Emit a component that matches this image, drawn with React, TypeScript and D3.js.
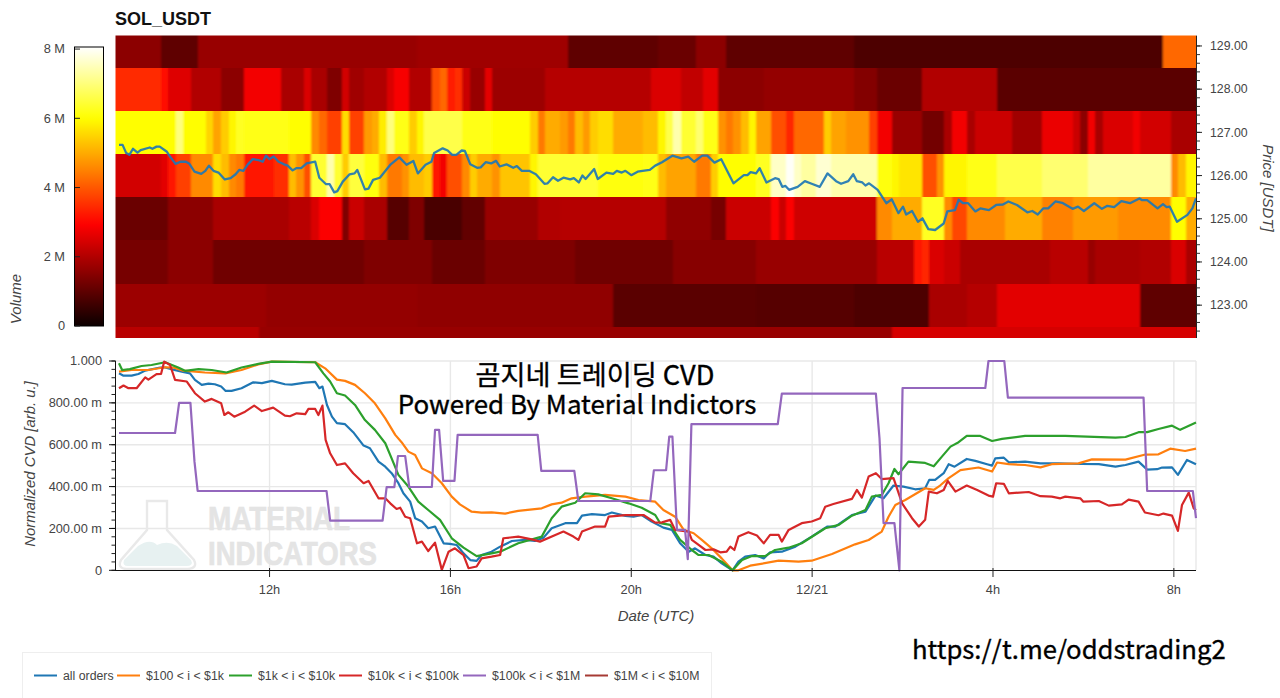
import * as d3 from "d3";
import React from "react";

type Pt = [number, number];
type Run = [number, number];

// hours counted from 12/20 00:00 UTC
const hourStart = 8.593;
const hourEnd = 32.49;
const binHours = 1 / 6;

const timeTicks = [12, 16, 20, 24, 28, 32];
const timeLabels = ["12h", "16h", "20h", "12/21", "4h", "8h"];
const priceTicks = [123, 124, 125, 126, 127, 128, 129];
const volumeTicks = [0, 2, 4, 6, 8];
const cvdTicks = [0, 200, 400, 600, 800, 1000];
const cvdLabels = ["0", "200.00 m", "400.00 m", "600.00 m", "800.00 m", "1.000"];

// volume in millions, runs are [first 10 minute bin, volume]
const row129: Run[] = [[0,1.55],[6,1.0],[11,1.7],[40,1.78],[60,1.0],[72,1.15],[77,1.55],[81,1.0],[98,0.8],[139,4.2]];
const row128: Run[] = [[0,3.45],[6,3.1],[7,2.55],[10,2.0],[14,1.55],[17,2.8],[22,1.9],[25,2.5],[26,1.9],[28,1.4],[30,2.4],[31,1.8],[33,2.0],[36,2.5],[37,2.85],[39,2.0],[42,3.9],[43,4.2],[44,3.3],[45,3.5],[46,2.3],[47,1.7],[49,2.6],[50,1.75],[57,2.05],[71,2.5],[75,2.2],[78,2.6],[80,1.55],[86,1.65],[98,1.45],[101,1.15],[107,2.0],[117,0.95]];
const row127: Run[] = [[0,6.0],[8,7.0],[9,6.0],[12,5.5],[13,4.9],[14,5.4],[15,5.9],[16,6.3],[17,6.2],[23,6.0],[26,4.6],[27,4.2],[28,3.7],[30,5.6],[31,3.7],[33,4.8],[34,5.0],[35,5.8],[36,7.0],[37,6.2],[39,5.4],[40,5.9],[41,6.6],[46,6.2],[50,6.0],[55,5.4],[56,4.4],[57,5.0],[59,4.8],[60,4.4],[61,5.2],[62,4.8],[63,5.4],[64,5.6],[66,5.0],[70,5.2],[72,5.9],[73,6.6],[74,7.4],[75,6.4],[77,6.9],[78,6.2],[80,4.7],[81,4.4],[82,4.7],[83,5.2],[84,5.9],[85,4.9],[87,3.9],[89,3.4],[90,4.2],[94,5.4],[95,4.9],[97,4.7],[100,3.7],[101,2.8],[103,1.7],[107,1.25],[110,1.9],[111,2.8],[113,1.9],[114,2.3],[119,1.8],[123,2.7],[127,2.3],[128,1.55],[129,2.8],[130,1.9],[131,2.5],[135,2.8],[136,2.4],[140,1.9]];
const row126: Run[] = [[0,2.4],[6,2.6],[7,3.2],[8,3.7],[10,4.6],[13,5.6],[14,5.2],[15,4.6],[16,4.4],[17,3.2],[21,3.5],[23,5.2],[24,4.7],[25,3.9],[26,6.4],[28,7.4],[29,6.4],[30,5.4],[31,6.5],[33,6.1],[35,5.2],[36,4.4],[38,4.7],[39,5.2],[41,5.4],[42,3.2],[43,2.8],[44,3.9],[46,4.6],[47,5.4],[48,5.0],[50,4.7],[51,5.3],[55,5.9],[56,6.4],[64,6.1],[70,6.2],[72,5.2],[73,4.9],[77,4.4],[79,5.4],[80,6.0],[85,6.3],[87,7.6],[89,8.0],[90,7.6],[91,7.3],[93,7.7],[95,7.4],[101,6.1],[103,5.9],[104,5.7],[107,3.9],[109,4.7],[110,5.9],[113,6.2],[117,6.6],[123,6.9],[129,7.3],[140,4.6],[141,5.2],[142,5.9]];
const row125: Run[] = [[0,1.15],[7,1.55],[13,1.9],[23,2.1],[26,2.5],[27,2.9],[30,1.4],[31,2.3],[33,1.9],[36,0.9],[39,1.4],[41,0.75],[46,1.05],[49,1.7],[56,2.0],[59,2.05],[73,1.6],[79,1.3],[81,2.3],[87,2.9],[88,2.3],[89,2.9],[90,2.35],[101,4.6],[103,5.0],[107,6.3],[110,4.6],[111,3.8],[113,4.6],[118,5.0],[123,4.5],[127,4.8],[133,4.6],[140,6.0],[142,5.0]];
const row124: Run[] = [[0,1.3],[7,1.55],[13,1.2],[33,1.4],[42,1.15],[49,1.4],[61,1.2],[74,1.5],[85,1.7],[101,2.1],[106,3.2],[107,3.4],[108,2.5],[110,2.3],[112,1.9],[124,2.1],[129,1.7],[130,1.9],[136,2.0],[140,2.5],[142,1.9]];
const row123: Run[] = [[0,1.75],[20,1.65],[40,1.6],[66,0.95],[85,0.9],[98,0.8],[108,1.9],[113,2.05],[117,2.6],[136,1.0]];
const row122: Run[] = [[0,2.1],[19,1.7],[103,2.45]];
const heatRows: [number, Run[]][] = [[129,row129],[128,row128],[127,row127],[126,row126],[125,row125],[124,row124],[123,row123],[122,row122]];

const price: Pt[] = [[8.67,126.71],[8.75,126.71],[8.83,126.52],[8.90,126.48],[8.98,126.62],[9.08,126.53],[9.15,126.59],[9.35,126.65],[9.41,126.62],[9.50,126.67],[9.57,126.67],[9.73,126.55],[9.80,126.44],[9.92,126.27],[10.03,126.32],[10.15,126.32],[10.22,126.28],[10.34,126.09],[10.49,126.04],[10.58,126.11],[10.66,126.23],[10.76,126.11],[10.87,126.07],[11.01,125.91],[11.14,125.94],[11.25,126.03],[11.33,126.13],[11.42,126.11],[11.52,126.26],[11.63,126.38],[11.75,126.36],[11.85,126.32],[11.92,126.46],[12.00,126.38],[12.09,126.44],[12.20,126.32],[12.32,126.26],[12.40,126.23],[12.51,126.12],[12.59,126.17],[12.70,126.17],[12.82,126.28],[13.01,126.32],[13.10,125.95],[13.25,125.80],[13.33,125.80],[13.43,125.61],[13.50,125.64],[13.62,125.86],[13.77,126.03],[13.88,126.05],[13.94,126.13],[14.11,125.68],[14.19,125.70],[14.29,125.90],[14.44,125.95],[14.68,126.26],[14.87,126.42],[15.03,126.25],[15.18,126.34],[15.28,126.05],[15.45,126.25],[15.58,126.32],[15.64,126.52],[15.83,126.63],[15.94,126.58],[16.04,126.48],[16.13,126.48],[16.25,126.58],[16.32,126.57],[16.44,126.26],[16.59,126.18],[16.67,126.19],[16.78,126.31],[16.90,126.28],[17.01,126.34],[17.09,126.21],[17.24,126.26],[17.39,126.18],[17.47,126.22],[17.58,126.11],[17.74,126.11],[17.89,126.03],[18.08,125.81],[18.15,125.82],[18.27,125.96],[18.38,125.88],[18.50,125.95],[18.65,125.91],[18.73,125.94],[18.84,125.84],[18.92,126.00],[18.99,125.92],[19.18,126.15],[19.26,125.92],[19.45,126.07],[19.60,126.04],[19.68,126.11],[19.79,126.07],[19.87,126.11],[20.00,126.01],[20.14,126.09],[20.25,126.11],[20.41,126.13],[20.53,126.23],[20.68,126.31],[20.91,126.46],[21.11,126.40],[21.26,126.44],[21.39,126.32],[21.57,126.46],[21.68,126.46],[21.84,126.30],[21.99,126.38],[22.26,125.82],[22.49,126.01],[22.57,126.01],[22.64,126.08],[22.76,126.05],[22.84,126.17],[22.99,125.84],[23.18,125.94],[23.26,125.92],[23.34,125.74],[23.41,125.76],[23.49,125.67],[23.68,125.74],[23.84,125.87],[23.99,125.81],[24.17,125.74],[24.34,126.05],[24.53,125.87],[24.64,125.81],[24.80,125.87],[24.91,126.03],[24.99,125.87],[25.11,125.84],[25.18,125.77],[25.26,125.82],[25.45,125.67],[25.64,125.36],[25.76,125.45],[25.91,125.13],[26.01,125.28],[26.08,125.10],[26.21,125.18],[26.34,124.93],[26.44,125.01],[26.57,124.76],[26.72,124.74],[26.91,124.89],[26.99,125.17],[27.16,125.20],[27.24,125.44],[27.34,125.36],[27.45,125.36],[27.61,125.17],[27.72,125.24],[27.91,125.20],[28.07,125.32],[28.22,125.33],[28.34,125.40],[28.53,125.32],[28.76,125.15],[28.87,125.18],[28.99,125.10],[29.11,125.24],[29.22,125.24],[29.38,125.40],[29.53,125.37],[29.76,125.23],[29.88,125.28],[30.01,125.18],[30.24,125.36],[30.41,125.23],[30.53,125.30],[30.68,125.27],[30.84,125.41],[31.03,125.36],[31.24,125.47],[31.30,125.43],[31.41,125.43],[31.64,125.24],[31.76,125.34],[31.84,125.27],[31.91,125.28],[32.07,124.93],[32.30,125.09],[32.41,125.24],[32.49,125.47]];

// normalized CVD in milli units
const allOrders: Pt[] = [[8.67,941],[8.77,930],[8.95,930],[9.10,938],[9.25,954],[9.58,969],[9.69,969],[9.87,959],[10.06,949],[10.24,941],[10.35,910],[10.50,886],[10.65,892],[10.79,889],[10.93,878],[11.03,857],[11.16,857],[11.38,870],[11.64,898],[11.83,894],[12.05,905],[12.34,889],[12.49,887],[12.79,897],[13.01,900],[13.10,870],[13.17,878],[13.27,790],[13.38,734],[13.49,703],[13.67,698],[13.85,660],[14.08,596],[14.22,583],[14.41,519],[14.56,495],[14.70,464],[14.85,416],[14.96,368],[15.11,328],[15.22,249],[15.37,233],[15.51,201],[15.66,209],[15.85,129],[15.99,126],[16.14,121],[16.29,81],[16.44,49],[16.58,45],[16.69,73],[16.91,89],[17.10,113],[17.36,140],[17.65,145],[17.87,140],[18.06,156],[18.24,201],[18.54,225],[18.80,225],[18.91,261],[19.13,268],[19.42,264],[19.57,276],[19.87,260],[20.05,256],[20.23,264],[20.45,233],[20.71,204],[20.90,193],[21.08,129],[21.27,89],[21.41,105],[21.64,73],[21.82,65],[22.00,33],[22.24,0],[22.37,41],[22.52,65],[22.74,73],[22.93,57],[23.07,86],[23.33,89],[23.63,113],[23.99,161],[24.33,209],[24.51,209],[24.88,264],[25.18,280],[25.40,357],[25.58,344],[25.80,405],[26.02,400],[26.28,387],[26.50,392],[26.59,432],[26.72,432],[26.91,464],[27.02,507],[27.15,495],[27.42,532],[27.61,523],[27.87,507],[27.98,500],[28.05,535],[28.24,538],[28.35,516],[28.71,519],[29.05,511],[29.45,511],[29.97,508],[30.34,507],[30.71,495],[30.93,503],[31.22,519],[31.41,481],[31.63,483],[31.74,491],[31.96,492],[32.09,456],[32.29,527],[32.49,507]];
const orders100: Pt[] = [[8.67,949],[8.95,957],[9.32,957],[9.69,970],[9.87,969],[10.09,954],[10.57,945],[11.02,941],[11.38,957],[11.75,984],[12.05,997],[13.01,994],[13.23,965],[13.49,911],[13.67,905],[13.89,886],[14.11,846],[14.33,798],[14.56,726],[14.78,647],[14.92,612],[15.07,567],[15.22,551],[15.37,487],[15.59,464],[15.81,416],[16.03,352],[16.21,315],[16.47,280],[16.69,276],[16.91,277],[17.21,271],[17.50,284],[18.02,296],[18.24,315],[18.46,323],[18.68,344],[18.98,352],[19.42,360],[19.87,352],[20.16,336],[20.53,328],[20.71,288],[20.97,256],[21.16,193],[21.38,177],[21.56,145],[21.78,105],[22.00,57],[22.24,0],[22.37,0],[22.63,22],[23.26,46],[23.70,41],[23.99,46],[24.44,78],[24.95,124],[25.25,145],[25.54,185],[25.69,256],[25.84,312],[26.06,336],[26.50,392],[26.69,384],[26.83,405],[27.02,440],[27.28,479],[27.68,491],[27.98,472],[28.09,515],[28.35,507],[28.71,503],[29.05,492],[29.30,507],[29.89,511],[30.19,530],[30.93,529],[31.37,553],[31.66,554],[31.92,581],[32.25,570],[32.49,581]];
const orders1k: Pt[] = [[8.67,989],[8.74,957],[8.91,961],[9.17,976],[9.39,981],[9.69,994],[9.98,969],[10.13,953],[10.43,961],[10.72,957],[11.05,945],[11.38,969],[11.75,986],[12.05,997],[13.01,994],[13.19,941],[13.34,902],[13.49,846],[13.67,835],[13.89,790],[14.11,718],[14.33,671],[14.56,607],[14.70,535],[14.85,456],[15.07,400],[15.29,328],[15.51,288],[15.77,241],[16.03,153],[16.29,108],[16.58,68],[16.91,81],[17.10,89],[17.50,129],[18.02,161],[18.24,249],[18.46,304],[18.76,323],[18.98,368],[19.27,363],[19.57,344],[19.94,320],[20.23,299],[20.53,264],[20.64,225],[20.86,217],[21.08,145],[21.34,97],[21.49,73],[21.71,73],[22.00,41],[22.24,0],[22.45,49],[22.67,68],[22.96,68],[23.18,97],[23.48,108],[23.77,129],[24.29,201],[24.59,217],[24.88,261],[25.18,288],[25.32,352],[25.54,360],[25.69,416],[25.82,484],[25.91,459],[26.13,519],[26.50,513],[26.69,497],[26.87,543],[27.06,591],[27.24,612],[27.42,642],[27.72,642],[27.98,618],[28.20,628],[28.71,642],[29.60,642],[30.71,634],[30.93,637],[31.22,660],[31.41,660],[31.66,675],[31.96,691],[32.14,671],[32.49,706]];
const orders10k: Pt[] = [[8.67,870],[8.77,883],[8.88,870],[9.06,870],[9.25,922],[9.32,911],[9.50,937],[9.60,938],[9.67,997],[9.80,981],[9.91,910],[10.17,902],[10.35,846],[10.57,806],[10.72,819],[10.93,798],[11.00,742],[11.09,755],[11.22,734],[11.46,758],[11.66,787],[11.83,761],[12.08,777],[12.34,739],[12.45,736],[12.60,750],[12.79,746],[12.86,771],[13.01,771],[13.08,742],[13.17,787],[13.24,623],[13.34,559],[13.49,503],[13.67,511],[13.85,464],[14.08,416],[14.19,427],[14.41,344],[14.56,344],[14.67,320],[14.81,293],[14.89,299],[15.00,256],[15.11,249],[15.26,129],[15.37,137],[15.51,92],[15.66,132],[15.81,2],[15.96,89],[16.10,105],[16.29,73],[16.40,10],[16.58,18],[16.69,57],[16.91,65],[17.10,73],[17.17,153],[17.50,161],[17.80,148],[17.98,137],[18.32,169],[18.50,185],[18.72,161],[18.83,145],[18.91,185],[19.20,209],[19.42,209],[19.50,256],[19.87,264],[20.27,264],[20.53,228],[20.68,229],[20.86,241],[20.97,193],[21.27,185],[21.34,145],[21.49,121],[21.64,97],[21.82,100],[21.97,86],[22.11,89],[22.19,113],[22.28,97],[22.37,161],[22.59,182],[22.78,166],[22.93,129],[23.07,169],[23.26,169],[23.33,137],[23.48,193],[23.77,225],[23.99,233],[24.18,249],[24.29,304],[24.47,317],[24.88,341],[24.99,384],[25.10,347],[25.25,448],[25.41,464],[25.54,436],[25.80,440],[25.99,320],[26.21,249],[26.36,209],[26.50,241],[26.58,376],[26.76,368],[26.91,384],[27.00,427],[27.17,376],[27.42,405],[27.65,384],[27.90,357],[28.00,352],[28.07,416],[28.24,413],[28.35,368],[28.79,374],[29.05,354],[29.30,352],[29.49,344],[29.60,352],[29.93,344],[30.00,328],[30.34,331],[30.56,309],[30.85,315],[31.00,338],[31.22,328],[31.36,276],[31.66,263],[31.77,271],[31.96,261],[32.09,188],[32.18,312],[32.33,371],[32.44,296],[32.49,288]];
const orders100k: Pt[] = [[8.67,656],[9.91,656],[10.00,800],[10.25,800],[10.34,519],[10.41,379],[13.26,379],[13.34,237],[14.50,237],[14.59,397],[14.76,397],[14.84,546],[15.00,546],[15.09,398],[15.59,398],[15.66,671],[15.75,671],[15.84,427],[16.09,427],[16.16,647],[17.93,647],[18.01,475],[18.74,475],[18.83,331],[20.42,331],[20.50,478],[20.77,478],[20.84,639],[20.91,639],[21.01,193],[21.19,193],[21.25,53],[21.33,698],[23.24,698],[23.33,844],[25.41,844],[25.49,631],[25.58,225],[25.82,225],[25.93,0],[26.00,871],[27.83,871],[27.90,1000],[28.25,1000],[28.33,825],[31.33,825],[31.41,379],[32.42,379],[32.49,249]];

const seriesNames = ["all orders", "$100 < i < $1k", "$1k < i < $10k", "$10k < i < $100k", "$100k < i < $1M", "$1M < i < $10M"];
const seriesColors = ["#1f77b4", "#ff7f0e", "#2ca02c", "#d62728", "#9467bd", "#a63a34"];
const seriesData = [allOrders, orders100, orders1k, orders10k, orders100k];

const volumeMax = 8.06;
const fontFamily = "'Liberation Sans', Arial, sans-serif";
const captionFont = "'Noto Sans CJK KR', 'Noto Sans', sans-serif";
const grey = "#444";

const x = d3.scaleLinear().domain([hourStart, hourEnd]).range([115.5, 1196]);
const yPrice = d3.scaleLinear().domain([122.24, 129.24]).range([338, 35.6]);
const yVolume = d3.scaleLinear().domain([0, volumeMax]).range([326, 47]);
const yCvd = d3.scaleLinear().domain([0, 1000]).range([570.3, 361]);

const hot = d3
  .scaleLinear<string>()
  .domain([0, 0.365 * volumeMax, 0.746 * volumeMax, volumeMax])
  .range(["#0b0000", "#ff0000", "#ffff00", "#ffffff"]);

const priceLine = d3.line<Pt>().x((d) => x(d[0])).y((d) => yPrice(d[1]));
const cvdLine = d3.line<Pt>().x((d) => x(d[0])).y((d) => yCvd(d[1]));

const colorStops = d3.range(0, 1.001, 0.02);
const minorPrice = d3.range(122.4, 129.2, 0.2);
const minorCvd = d3.range(0, 1001, 40);

const legendX = [34, 117, 229, 339, 463, 585];

const App: React.FC = () => {
  return (
    <svg
      width={1280}
      height={698}
      style={{ position: "absolute", left: 0, top: 0, background: "#fff" }}
      fontFamily={fontFamily}
    >
      <defs>
        <linearGradient id="hotbar" x1="0" y1="1" x2="0" y2="0">
          {colorStops.map((s) => (
            <stop key={s} offset={s} stopColor={hot(s * volumeMax)} />
          ))}
        </linearGradient>
        <clipPath id="heatClip">
          <rect x={115.5} y={35.6} width={1080.5} height={302.4} />
        </clipPath>
        {/* the cells in the picture run slightly into each other along time */}
        <filter id="timeBlur" filterUnits="userSpaceOnUse" x={100} y={30} width={1110} height={315}>
          <feGaussianBlur stdDeviation="1.3 0" />
        </filter>
      </defs>

      <text x={115} y={25} fontSize={18} fontWeight="bold" fill="#111">
        SOL_USDT
      </text>

      {/* heat map */}
      <g clipPath="url(#heatClip)">
        <g filter="url(#timeBlur)" shapeRendering="crispEdges">
          {heatRows.map(([level, runs]) =>
            runs.map(([bin, volume], i) => {
              const t0 = hourStart + bin * binHours;
              const t1 = i + 1 < runs.length ? hourStart + runs[i + 1][0] * binHours : hourEnd + binHours;
              const left = i === 0 ? x(t0) - 8 : x(t0);
              return (
                <rect
                  key={`${level}-${bin}`}
                  x={left}
                  y={yPrice(level + 0.5)}
                  width={x(t1) - left + 0.6}
                  height={yPrice(level - 0.5) - yPrice(level + 0.5)}
                  fill={hot(volume)}
                />
              );
            })
          )}
        </g>
      </g>
      <path d={priceLine(price) as string} fill="none" stroke="#1f77b4" strokeOpacity={0.92} strokeWidth={2.3} strokeLinejoin="round" />

      {/* price axis */}
      <line x1={1196.5} x2={1196.5} y1={35.6} y2={338} stroke="#222" />
      {minorPrice.map((p) => (
        <line key={p} x1={1196.5} x2={1200} y1={yPrice(p)} y2={yPrice(p)} stroke="#333" />
      ))}
      {priceTicks.map((p) => (
        <g key={p}>
          <line x1={1196.5} x2={1202} y1={yPrice(p)} y2={yPrice(p)} stroke="#222" />
          <text x={1210} y={yPrice(p) + 4.3} fontSize={12.3} fill={grey}>
            {p.toFixed(2)}
          </text>
        </g>
      ))}
      <text
        transform="translate(1263,188) rotate(90)"
        textAnchor="middle"
        fontSize={15}
        fontStyle="italic"
        fill={grey}
      >
        Price [USDT]
      </text>

      {/* colour bar */}
      <rect x={74.5} y={47} width={29} height={279} fill="url(#hotbar)" stroke="#000" />
      {volumeTicks.map((v) => (
        <g key={v}>
          <line x1={75} x2={80} y1={yVolume(v)} y2={yVolume(v)} stroke="#222" />
          <text x={65} y={yVolume(v) + 4.3} textAnchor="end" fontSize={12.8} fill={grey}>
            {v === 0 ? "0" : `${v} M`}
          </text>
        </g>
      ))}
      <text
        transform="translate(21,299) rotate(-90)"
        textAnchor="middle"
        fontSize={15}
        fontStyle="italic"
        fill={grey}
      >
        Volume
      </text>

      {/* grid */}
      {cvdTicks.slice(1).map((v) => (
        <line key={v} x1={115.5} x2={1196} y1={yCvd(v)} y2={yCvd(v)} stroke="#e8e8e8" strokeWidth={1.4} />
      ))}
      {timeTicks.map((t) => (
        <line key={t} x1={x(t)} x2={x(t)} y1={361} y2={570.3} stroke="#e8e8e8" strokeWidth={1.4} />
      ))}
      <line x1={1196} x2={1196} y1={361} y2={570.3} stroke="#e8e8e8" strokeWidth={1.4} />

      {/* watermark */}
      <g>
        <path
          d="M147 501 L167 501 L167 530 L194 560 Q198 568 188 569 L126 569 Q117 568 121 560 L147 530 Z"
          fill="none"
          stroke="#e9e9e9"
          strokeWidth={2.4}
        />
        <path
          d="M124 560 L138 546 Q150 538 157 545 Q168 540 177 546 L191 560 Q194 566 186 566 L128 566 Q122 566 124 560 Z"
          fill="#e7f1f1"
        />
        <text x={208} y={530} fontSize={33} fontWeight="bold" fill="#e4e4e4" stroke="#e4e4e4" strokeWidth={0.7} textLength={142} lengthAdjust="spacingAndGlyphs">
          MATERIAL
        </text>
        <text x={208} y={565} fontSize={33} fontWeight="bold" fill="#e4e4e4" stroke="#e4e4e4" strokeWidth={0.7} textLength={169} lengthAdjust="spacingAndGlyphs">
          INDICATORS
        </text>
      </g>

      {/* CVD lines */}
      {seriesData.map((data, i) => (
        <path
          key={seriesNames[i]}
          d={cvdLine(data) as string}
          fill="none"
          stroke={seriesColors[i]}
          strokeWidth={2.2}
          strokeLinejoin="round"
        />
      ))}

      {/* CVD axes */}
      <line x1={115.5} x2={115.5} y1={361} y2={571} stroke="#111" />
      <line x1={115} x2={1196} y1={570.5} y2={570.5} stroke="#111" />
      {minorCvd.map((v) => (
        <line key={v} x1={111.5} x2={115.5} y1={yCvd(v)} y2={yCvd(v)} stroke="#222" />
      ))}
      {cvdTicks.map((v, i) => (
        <g key={v}>
          <line x1={109} x2={115.5} y1={yCvd(v)} y2={yCvd(v)} stroke="#111" />
          <text x={102} y={yCvd(v) + 4.3} textAnchor="end" fontSize={12.8} fill={grey}>
            {cvdLabels[i]}
          </text>
        </g>
      ))}
      {timeTicks.map((t, i) => (
        <g key={t}>
          <line x1={x(t)} x2={x(t)} y1={568} y2={577} stroke="#222" />
          <text x={x(t)} y={594} textAnchor="middle" fontSize={12.8} fill={grey}>
            {timeLabels[i]}
          </text>
        </g>
      ))}
      <text
        transform="translate(35,464) rotate(-90)"
        textAnchor="middle"
        fontSize={14.9}
        fontStyle="italic"
        fill={grey}
      >
        Normalized CVD [arb. u.]
      </text>
      <text x={656} y={621} textAnchor="middle" fontSize={15} fontStyle="italic" fill={grey}>
        Date (UTC)
      </text>

      {/* overlaid captions */}
      <g fontFamily={captionFont} fill="#000" stroke="#000" strokeWidth={0.35}>
        <text x={595} y={385} textAnchor="middle" fontSize={27.2}>
          곰지네 트레이딩 CVD
        </text>
        <text x={577} y={414} textAnchor="middle" fontSize={25.9}>
          Powered By Material Indictors
        </text>
        <text x={912} y={659} fontSize={25.7}>
          https://t.me/oddstrading2
        </text>
      </g>

      {/* legend */}
      <rect x={22.5} y={652.5} width={689} height={60} fill="#fff" stroke="#eeeeee" />
      {seriesNames.map((name, i) => (
        <g key={name}>
          <line x1={legendX[i]} x2={legendX[i] + 23} y1={675.5} y2={675.5} stroke={seriesColors[i]} strokeWidth={2} />
          <text x={legendX[i] + 29} y={680} fontSize={12.3} fill={grey}>
            {name}
          </text>
        </g>
      ))}
    </svg>
  );
};

export default App;
